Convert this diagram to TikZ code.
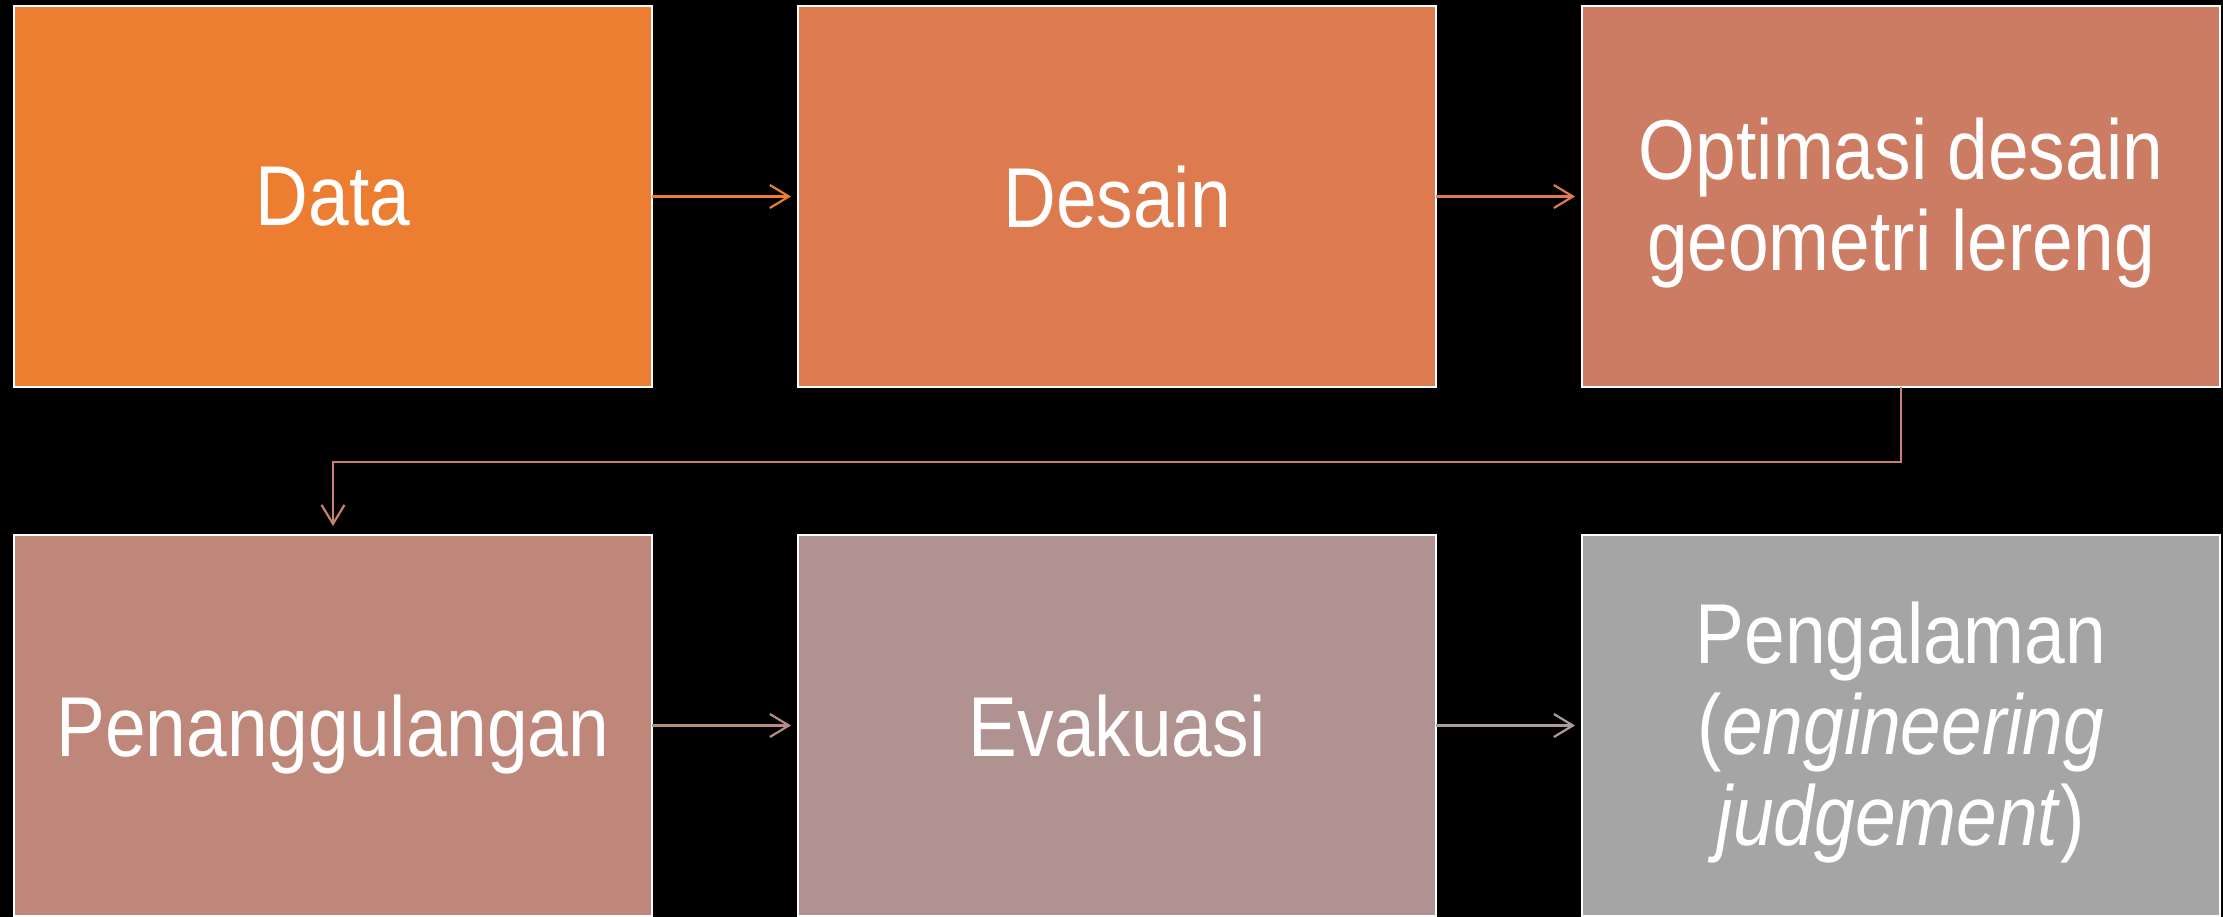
\documentclass[tikz,border=0pt]{standalone}
\usepackage{fontspec}
\setmainfont{Liberation Sans}[FakeStretch=0.86]
\usetikzlibrary{arrows.meta}
% fills of the six steps, from orange to grey
\definecolor{stepA}{HTML}{ED7D31}
\definecolor{stepB}{HTML}{DE7B4E}
\definecolor{stepC}{HTML}{CD7C64}
\definecolor{stepD}{HTML}{BE877A}
\definecolor{stepE}{HTML}{B09391}
\definecolor{stepF}{HTML}{A5A5A5}
% connector colours
\definecolor{linkA}{HTML}{ED7D31}
\definecolor{linkB}{HTML}{DE7B50}
\definecolor{linkC}{HTML}{C98070}
\definecolor{linkD}{HTML}{B98B84}
\definecolor{linkE}{HTML}{AB9C9B}
\begin{document}
\begin{tikzpicture}[x=1pt,y=-1pt,
  steptext/.style={text=white,align=center,inner sep=0pt,
    font=\fontsize{85}{91}\selectfont},
  stepbox/.style={steptext,draw=white,line width=2.5pt,outer sep=0pt,
    minimum width=638pt,minimum height=381pt,anchor=north west,text depth=0pt},
  link/.style={line width=2.2pt,-{Straight Barb[length=19pt,width=23pt,line width=2.2pt]}}]
\fill[black] (0,0) rectangle (2223,917);
\useasboundingbox (0,0) rectangle (2223,917);

\node[stepbox,fill=stepA] (b1) at (14,6)    {Data};
\node[stepbox,fill=stepB] (b2) at (798,6)   {Desain};
\node[stepbox,fill=stepC] (b3) at (1582,6)  {};
\node[stepbox,fill=stepD] (b4) at (14,535)  {Penanggulangan};
\node[stepbox,fill=stepE] (b5) at (798,535) {Evakuasi};
\node[stepbox,fill=stepF] (b6) at (1582,535) {};

% two- and three-line captions
\node[steptext] (t3) at ([yshift=-7pt]b3.center) {Optimasi desain\\geometri lereng};
\node[steptext] (t6) at ([yshift=-7pt]b6.center) {Pengalaman\\(\textit{engineering}\\\textit{judgement})};

\draw[link,linkA] (b1.east) -- ([xshift=-7pt]b2.west);
\draw[link,linkB] (b2.east) -- ([xshift=-7pt]b3.west);
\draw[link,linkC] (b3.south) -- ++(0,75) -| ([yshift=9pt]b4.north);
\draw[link,linkD] (b4.east) -- ([xshift=-7pt]b5.west);
\draw[link,linkE] (b5.east) -- ([xshift=-7pt]b6.west);
\end{tikzpicture}
\end{document}
